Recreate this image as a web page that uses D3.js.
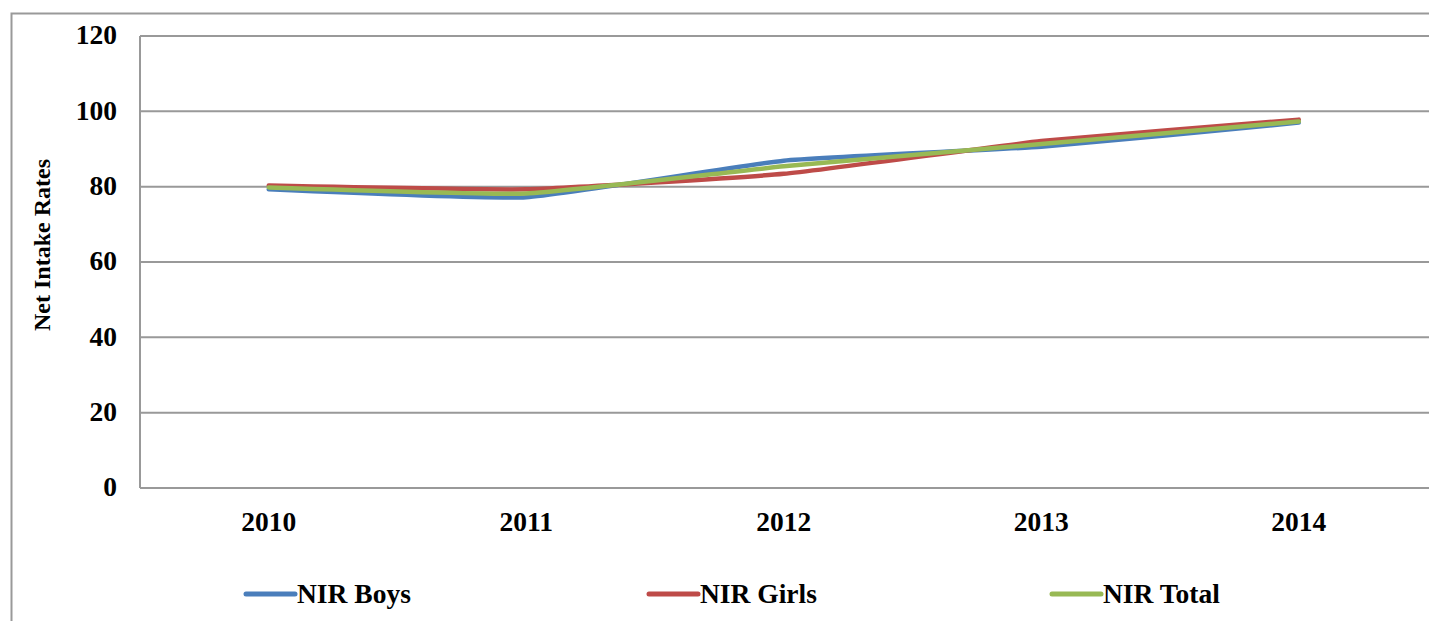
<!DOCTYPE html>
<html>
<head>
<meta charset="utf-8">
<script src="https://cdn.jsdelivr.net/npm/d3@7"></script>
<style>
  body { margin: 0; background: #fff; }
  svg { display: block; font-family: "Liberation Serif", "Times New Roman", serif; font-weight: bold; }
  .grid line { stroke: #999; stroke-width: 2; }
  .axis path, .axis line { display: none; }
  .axis text { font-size: 27.5px; fill: #000; font-family: "Liberation Serif", serif; font-weight: bold; }
</style>
</head>
<body>
<script>
var years = ["2010", "2011", "2012", "2013", "2014"];
var boys  = [79.3, 77.2, 86.9, 90.6, 97.0];
var girls = [80.3, 79.3, 83.4, 92.1, 97.8];
var total = [79.8, 78.2, 85.4, 91.3, 97.3];
var yTicks = [0, 20, 40, 60, 80, 100, 120];
var seriesNames = ["NIR Boys", "NIR Girls", "NIR Total"];
var colors = ["#4a7ebb", "#be4b48", "#98b954"];

var W = 1429, H = 621;
var margin = {top: 36, left: 140, right: 1.5, bottom: 133};
var width = W - margin.left - margin.right,
    height = H - margin.top - margin.bottom;

var svg = d3.select("body").append("svg")
  .attr("width", W).attr("height", H);

// outer chart border
svg.append("rect")
  .attr("x", 11.5).attr("y", 13.5)
  .attr("width", W + 20).attr("height", H + 20)
  .attr("fill", "none").attr("stroke", "#999").attr("stroke-width", 2);

var g = svg.append("g").attr("transform", "translate(" + margin.left + "," + margin.top + ")");

var x = d3.scaleBand().domain(years).range([0, width]);
var y = d3.scaleLinear().domain([0, 120]).range([height, 0]);

// gridlines
g.append("g").attr("class", "grid")
  .selectAll("line").data(yTicks).enter().append("line")
  .attr("x1", 0).attr("x2", W - margin.left)
  .attr("y1", function(d) { return y(d); })
  .attr("y2", function(d) { return y(d); });

// left axis line
g.append("line")
  .attr("x1", 0).attr("x2", 0).attr("y1", 0).attr("y2", height)
  .attr("stroke", "#999").attr("stroke-width", 2);

g.append("g").attr("class", "axis")
  .call(d3.axisLeft(y).tickValues(yTicks).tickSize(0).tickPadding(23))
  .selectAll("text").attr("dy", "0.28em");

g.append("g").attr("class", "axis")
  .attr("transform", "translate(0," + height + ")")
  .call(d3.axisBottom(x).tickSize(0).tickPadding(23));

svg.append("text")
  .attr("transform", "translate(50,245) rotate(-90)")
  .attr("text-anchor", "middle")
  .attr("font-size", "24px")
  .text("Net Intake Rates");

var line = d3.line()
  .x(function(d, i) { return x(years[i]) + x.bandwidth() / 2; })
  .y(function(d) { return y(d); })
  .curve(d3.curveCardinal.tension(0.6));

[boys, girls, total].forEach(function(s, i) {
  g.append("path")
    .attr("d", line(s))
    .attr("fill", "none")
    .attr("stroke", colors[i])
    .attr("stroke-width", 4.5)
    .attr("stroke-linecap", "round")
    .attr("stroke-linejoin", "round");
});

// legend
var legendX = [246, 649, 1052];
var leg = svg.selectAll(".leg").data(seriesNames).enter().append("g")
  .attr("class", "leg")
  .attr("transform", function(d, i) { return "translate(" + legendX[i] + ",594)"; });
leg.append("line")
  .attr("x1", 0).attr("x2", 49)
  .attr("stroke", function(d, i) { return colors[i]; })
  .attr("stroke-width", 5).attr("stroke-linecap", "round");
leg.append("text")
  .attr("x", 51).attr("dy", "0.33em")
  .attr("font-size", "27.5px")
  .text(function(d) { return d; });
</script>
</body>
</html>
